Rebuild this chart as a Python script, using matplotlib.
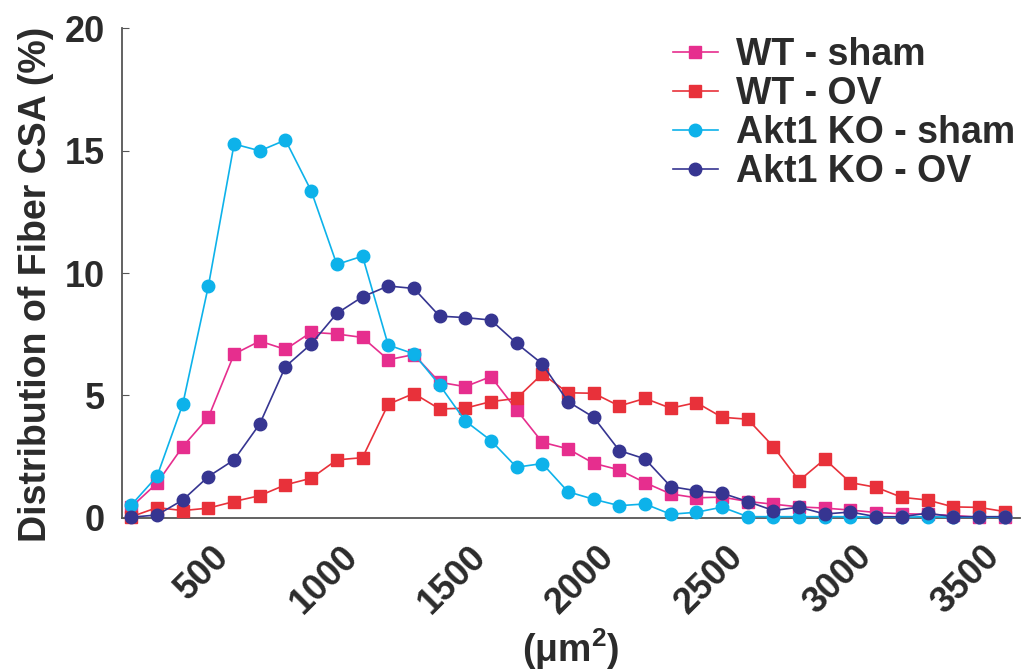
import numpy as np
import matplotlib.pyplot as plt
from matplotlib.transforms import ScaledTranslation

plt.rcParams['font.family'] = ['Liberation Sans', 'DejaVu Sans']
plt.rcParams['font.weight'] = 'bold'

# fiber cross-sectional area bins (um^2)
csa_bins = np.arange(100, 3600, 100)

wt_sham = [0.45, 1.42, 2.91, 4.11, 6.69, 7.22, 6.88, 7.58, 7.51, 7.37, 6.46, 6.67,
           5.54, 5.36, 5.77, 4.41, 3.09, 2.82, 2.23, 1.96, 1.44, 0.98, 0.82, 0.85,
           0.67, 0.56, 0.45, 0.40, 0.32, 0.22, 0.17, 0.15, 0.10, 0.03, 0.03]
wt_ov = [0.05, 0.42, 0.30, 0.40, 0.67, 0.91, 1.35, 1.62, 2.37, 2.46, 4.64, 5.08,
         4.45, 4.48, 4.75, 4.88, 5.88, 5.11, 5.09, 4.57, 4.88, 4.48, 4.71, 4.11,
         4.03, 2.91, 1.52, 2.40, 1.44, 1.25, 0.84, 0.73, 0.45, 0.43, 0.26]
ko_sham = [0.53, 1.70, 4.64, 9.48, 15.27, 14.99, 15.43, 13.36, 10.35, 10.69, 7.06, 6.70,
           5.43, 3.96, 3.16, 2.07, 2.22, 1.07, 0.76, 0.50, 0.57, 0.15, 0.23, 0.44,
           0.05, 0.05, 0.05, 0.05, 0.05, 0.03, 0.03, 0.05, 0.03, 0.03, 0.03]
ko_ov = [0.03, 0.12, 0.73, 1.69, 2.37, 3.84, 6.18, 7.10, 8.35, 9.03, 9.47, 9.37,
         8.24, 8.18, 8.08, 7.13, 6.29, 4.75, 4.11, 2.75, 2.41, 1.28, 1.11, 1.01,
         0.67, 0.30, 0.44, 0.16, 0.24, 0.05, 0.05, 0.19, 0.05, 0.05, 0.05]

series = [
    ('WT - sham', wt_sham, '#E62E8E', 's'),
    ('WT - OV', wt_ov, '#E8313A', 's'),
    ('Akt1 KO - sham', ko_sham, '#0DB2EA', 'o'),
    ('Akt1 KO - OV', ko_ov, '#363591', 'o'),
]
text_color = '#2b2b2b'

fig = plt.figure(figsize=(10.22, 6.70), dpi=100)
ax = fig.add_axes([0.119, 0.227, 0.879, 0.731])

lines = {}
for i in [2, 0, 1, 3]:
    label, vals, color, marker = series[i]
    ln, = ax.plot(csa_bins, vals, marker=marker, color=color, label=label,
                  markersize=9, linewidth=1.2, clip_on=False, zorder=3 + i)
    lines[i] = ln

ax.set_xlim(62, 3560)
ax.set_ylim(0, 20)
ax.set_yticks([0, 5, 10, 15, 20])
ax.set_xticks(np.arange(500, 4000, 500))

ax.spines['top'].set_visible(False)
ax.spines['right'].set_visible(False)
for s in ('left', 'bottom'):
    ax.spines[s].set_color('#555555')
    ax.spines[s].set_linewidth(1.3)

ax.tick_params(axis='y', direction='in', length=5, color='#555555',
               labelsize=26, labelcolor=text_color, pad=12)
ax.tick_params(axis='x', direction='in', length=0, labelsize=26,
               labelcolor=text_color, pad=24)

shift = ScaledTranslation(-10 / 100, 0, fig.dpi_scale_trans)
for lbl in ax.get_xticklabels():
    lbl.set_rotation(45)
    lbl.set_ha('right')
    lbl.set_va('center')
    lbl.set_rotation_mode('anchor')
    lbl.set_fontweight('bold')
    lbl.set_transform(lbl.get_transform() + shift)
for lbl in ax.get_yticklabels():
    lbl.set_fontweight('bold')

ax.set_xlabel(r'($\mathregular{\mu}$m$^\mathregular{2}$)', fontsize=27,
              fontweight='bold', color=text_color, labelpad=4)
ax.set_ylabel('Distribution of Fiber CSA (%)', fontsize=27,
              fontweight='bold', color=text_color, labelpad=8)
ax.yaxis.label.set_y(0.476)

handles = [lines[i] for i in range(4)]
leg = ax.legend(handles=handles, loc='upper right', bbox_to_anchor=(1.016, 1.02),
                frameon=False, fontsize=27, handlelength=1.2, handletextpad=0.5,
                labelspacing=0.08, borderaxespad=0.1)
for t in leg.get_texts():
    t.set_color(text_color)
    t.set_fontweight('bold')

fig.savefig('out.png', dpi=100)
